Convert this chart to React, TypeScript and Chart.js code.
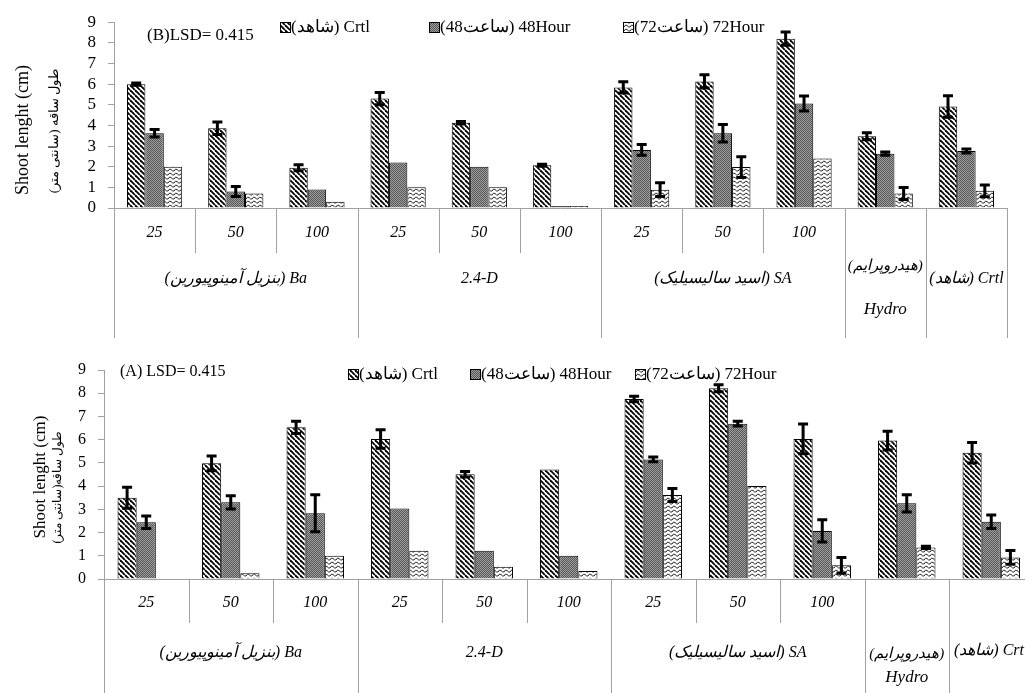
import React, { useEffect, useRef } from 'react';
import { Chart, registerables } from 'chart.js';
Chart.register(...registerables);

const categories = ['Ba 25', 'Ba 50', 'Ba 100', '2.4-D 25', '2.4-D 50', '2.4-D 100', 'SA 25', 'SA 50', 'SA 100', 'Hydro', 'Crtl'];
const doseLabels = ['25', '50', '100', '25', '50', '100', '25', '50', '100', '', ''];
const groupLabels: string[][] = [['(بنزیل آمینوپیورین) Ba'], ['2.4-D'], ['(اسید سالیسیلیک) SA'], ['(هیدروپرایم)', 'Hydro'], ['(شاهد) Crtl']];
const groupSpans = [3, 3, 3, 1, 1];
const seriesNames = ['(شاهد) Crtl', '(ساعت48) 48Hour', '(ساعت72) 72Hour'];
const yTicks = [0, 1, 2, 3, 4, 5, 6, 7, 8, 9];

// Panel B (top)
const crtlB = [6.0, 3.86, 1.95, 5.3, 4.13, 2.07, 5.84, 6.13, 8.2, 3.48, 4.92];
const h48B = [3.62, 0.8, 0.9, 2.2, 2.0, 0.1, 2.81, 3.62, 5.06, 2.63, 2.76];
const h72B = [2.0, 0.7, 0.3, 1.0, 1.0, 0.1, 0.89, 1.98, 2.4, 0.7, 0.83];
const errCrtlB = [0.05, 0.3, 0.15, 0.3, 0.06, 0.05, 0.27, 0.32, 0.32, 0.17, 0.52];
const errH48B = [0.18, 0.24, 0, 0, 0, 0, 0.26, 0.42, 0.36, 0.08, 0.1];
const errH72B = [0, 0, 0, 0, 0, 0, 0.33, 0.5, 0, 0.29, 0.28];

// Panel A (bottom)
const crtlA = [3.5, 4.98, 6.53, 6.03, 4.51, 4.72, 7.75, 8.21, 6.03, 5.96, 5.44];
const h48A = [2.44, 3.3, 2.83, 3.04, 1.22, 1.0, 5.15, 6.69, 2.07, 3.26, 2.47];
const h72A = [0, 0.25, 1.0, 1.22, 0.53, 0.34, 3.62, 4.0, 0.59, 1.36, 0.93];
const errCrtlA = [0.45, 0.32, 0.26, 0.4, 0.12, 0, 0.12, 0.15, 0.64, 0.4, 0.44];
const errH48A = [0.27, 0.29, 0.8, 0, 0, 0, 0.1, 0.1, 0.48, 0.37, 0.29];
const errH72A = [0, 0, 0, 0, 0, 0, 0.28, 0, 0.34, 0.05, 0.3];

const SERIF = '"Liberation Serif", "Times New Roman", serif';

function makePattern(ctx: CanvasRenderingContext2D, kind: string): CanvasPattern | string {
  const c = document.createElement('canvas');
  const g = c.getContext('2d')!;
  if (kind === 'diag') {
    c.width = 5; c.height = 5;
    g.fillStyle = '#fff'; g.fillRect(0, 0, 5, 5);
    g.strokeStyle = '#000'; g.lineWidth = 1.8;
    for (const off of [-5, 0, 5]) { g.beginPath(); g.moveTo(off, 0); g.lineTo(off + 5, 5); g.stroke(); }
  } else if (kind === 'dots') {
    c.width = 2; c.height = 2;
    g.fillStyle = '#a0a0a0'; g.fillRect(0, 0, 2, 2);
    g.fillStyle = '#555555'; g.fillRect(0, 0, 1, 1); g.fillRect(1, 1, 1, 1);
  } else {
    c.width = 6; c.height = 4;
    g.fillStyle = '#fff'; g.fillRect(0, 0, 6, 4);
    g.strokeStyle = '#222'; g.lineWidth = 1;
    g.beginPath(); g.moveTo(0, 3); g.quadraticCurveTo(1.5, 0, 3, 1.5); g.quadraticCurveTo(4.5, 3.5, 6, 3); g.stroke();
  }
  return ctx.createPattern(c, 'repeat') || '#888';
}

type Cfg = {
  top: number; w: number; h: number; pad: { top: number; bottom: number; right: number }; yw: number;
  tickFont: number;
  title1: { x: number; y: number; size: number }; title2: { x: number; y: number; size: number; text: string };
  lsd: { text: string; x: number; y: number; size: number };
  legend: { y: number; xs: number[]; size: number };
  doseY: number; groupY: number; crtlY: number; hydroY: number[]; innerLen: number; outerLen: number;
  series: number[][]; errs: number[][];
};

const cfgB: Cfg = {
  top: 0, w: 1025, h: 345, pad: { top: 20, bottom: 137, right: 18 }, yw: 114, tickFont: 17,
  title1: { x: 23, y: 130, size: 18 }, title2: { x: 55, y: 131, size: 13, text: 'طول ساقه (سانتی متر)' },
  lsd: { text: '(B)LSD= 0.415', x: 147, y: 36, size: 17 },
  legend: { y: 27, xs: [280, 429, 623], size: 17 },
  doseY: 25, groupY: 71, crtlY: 71, hydroY: [58, 102], innerLen: 45, outerLen: 130,
  series: [crtlB, h48B, h72B], errs: [errCrtlB, errH48B, errH72B],
};

const cfgA: Cfg = {
  top: 345, w: 1065, h: 348, pad: { top: 25, bottom: 114, right: 31.5 }, yw: 104, tickFont: 16,
  title1: { x: 41, y: 132, size: 17 }, title2: { x: 58, y: 142, size: 12, text: 'طول ساقه(سانتی متر)' },
  lsd: { text: '(A) LSD= 0.415', x: 120, y: 27, size: 16 },
  legend: { y: 29, xs: [348, 470, 635], size: 17 },
  doseY: 24, groupY: 74, crtlY: 72, hydroY: [75, 99], innerLen: 44, outerLen: 130,
  series: [crtlA, h48A, h72A], errs: [errCrtlA, errH48A, errH72A],
};

function Panel({ cfg }: { cfg: Cfg }) {
  const ref = useRef<HTMLCanvasElement>(null);
  useEffect(() => {
    const canvas = ref.current!;
    const ctx = canvas.getContext('2d')!;
    const pats = [makePattern(ctx, 'diag'), makePattern(ctx, 'dots'), makePattern(ctx, 'wave')];

    const decor = {
      id: 'decor',
      afterDatasetsDraw(chart: any) {
        const c = chart.ctx as CanvasRenderingContext2D;
        const y = chart.scales.y;
        c.save();
        c.strokeStyle = '#000';
        c.lineWidth = 3;
        chart.data.datasets.forEach((ds: any, d: number) => {
          const meta = chart.getDatasetMeta(d);
          ds.data.forEach((v: number, i: number) => {
            const e = ds.errors[i];
            if (!e) return;
            const x = meta.data[i].x;
            const y1 = y.getPixelForValue(v + e);
            const y2 = y.getPixelForValue(v - e);
            c.beginPath();
            c.moveTo(x, y1); c.lineTo(x, y2);
            c.moveTo(x - 5, y1); c.lineTo(x + 5, y1);
            c.moveTo(x - 5, y2); c.lineTo(x + 5, y2);
            c.stroke();
          });
        });
        c.restore();
      },
      afterDraw(chart: any) {
        const c = chart.ctx as CanvasRenderingContext2D;
        const area = chart.chartArea;
        const n = categories.length;
        const cw = (area.right - area.left) / n;
        const bx = (k: number) => area.left + k * cw;
        c.save();
        c.strokeStyle = '#a0a0a0';
        c.lineWidth = 1;
        c.beginPath();
        c.moveTo(area.left, area.bottom + 0.5); c.lineTo(area.right, area.bottom + 0.5);
        const outer = new Set<number>([0]);
        let acc = 0;
        groupSpans.forEach((s) => { acc += s; outer.add(acc); });
        for (let k = 0; k <= n; k++) {
          const xx = Math.round(bx(k)) + 0.5;
          const len = outer.has(k) ? cfg.outerLen : cfg.innerLen;
          c.moveTo(xx, area.bottom); c.lineTo(xx, area.bottom + len);
        }
        c.stroke();
        c.fillStyle = '#000';
        c.textAlign = 'center';
        c.textBaseline = 'middle';
        c.font = `italic 16px ${SERIF}`;
        doseLabels.forEach((t, i) => {
          if (t) c.fillText(t, bx(i + 0.5), area.bottom + cfg.doseY);
        });
        c.font = `italic 16px ${SERIF}`;
        let start = 0;
        groupSpans.forEach((s, gi) => {
          const cx = bx(start + s / 2);
          const lines = groupLabels[gi];
          if (lines.length === 1) {
            const yy = gi === groupSpans.length - 1 ? cfg.crtlY : cfg.groupY;
            c.fillText(lines[0], cx, area.bottom + yy);
          } else {
            c.font = `italic 15px ${SERIF}`;
            c.fillText(lines[0], cx, area.bottom + cfg.hydroY[0]);
            c.font = `italic 17px ${SERIF}`;
            c.fillText(lines[1], cx, area.bottom + cfg.hydroY[1]);
            c.font = `italic 16px ${SERIF}`;
          }
          start += s;
        });
        c.save();
        c.translate(cfg.title1.x, cfg.title1.y);
        c.rotate(-Math.PI / 2);
        c.font = `${cfg.title1.size}px ${SERIF}`;
        c.fillText('Shoot lenght (cm)', 0, 0);
        c.restore();
        c.save();
        c.translate(cfg.title2.x, cfg.title2.y);
        c.rotate(-Math.PI / 2);
        c.font = `${cfg.title2.size}px ${SERIF}`;
        c.fillText(cfg.title2.text, 0, 0);
        c.restore();
        c.textAlign = 'left';
        c.font = `${cfg.lsd.size}px ${SERIF}`;
        c.fillText(cfg.lsd.text, cfg.lsd.x, cfg.lsd.y);
        c.font = `${cfg.legend.size}px ${SERIF}`;
        seriesNames.forEach((name, i) => {
          const lx = cfg.legend.xs[i];
          const ly = cfg.legend.y;
          c.fillStyle = pats[i] as any;
          c.fillRect(lx, ly - 5, 10, 10);
          c.strokeStyle = '#000';
          c.lineWidth = 1;
          c.strokeRect(lx + 0.5, ly - 4.5, 10, 10);
          c.fillStyle = '#000';
          c.fillText(name, lx + 11, ly + 1);
        });
        c.restore();
      },
    };

    const chart = new Chart(ctx, {
      type: 'bar',
      data: {
        labels: categories,
        datasets: seriesNames.map((name, i) => ({
          label: name,
          data: cfg.series[i],
          errors: cfg.errs[i],
          backgroundColor: pats[i] as any,
          borderColor: '#000',
          borderWidth: 1,
          categoryPercentage: 0.68,
          barPercentage: 1,
        })) as any,
      },
      options: {
        responsive: false,
        animation: false,
        layout: { padding: { top: cfg.pad.top, bottom: cfg.pad.bottom, right: cfg.pad.right, left: 0 } },
        plugins: { legend: { display: false }, tooltip: { enabled: false }, title: { display: false } },
        scales: {
          x: { display: false },
          y: {
            min: 0,
            max: 9,
            afterFit: (s: any) => { s.width = cfg.yw; },
            afterBuildTicks: (s: any) => { s.ticks = yTicks.map((v) => ({ value: v })); },
            ticks: { color: '#000', padding: 12, autoSkip: false, font: { family: SERIF, size: cfg.tickFont } },
            grid: { drawOnChartArea: false, drawTicks: true, tickLength: 6, color: '#a0a0a0' },
            border: { display: true, color: '#a0a0a0' },
          },
        },
      },
      plugins: [decor],
    } as any);
    return () => chart.destroy();
  }, [cfg]);
  return (
    <canvas
      ref={ref}
      width={cfg.w}
      height={cfg.h}
      style={{ position: 'absolute', left: 0, top: cfg.top, display: 'block' }}
    />
  );
}

export default function App() {
  return (
    <div style={{ position: 'absolute', left: 0, top: 0, width: 1025, height: 693, overflow: 'hidden', background: '#fff' }}>
      <Panel cfg={cfgB} />
      <Panel cfg={cfgA} />
    </div>
  );
}
